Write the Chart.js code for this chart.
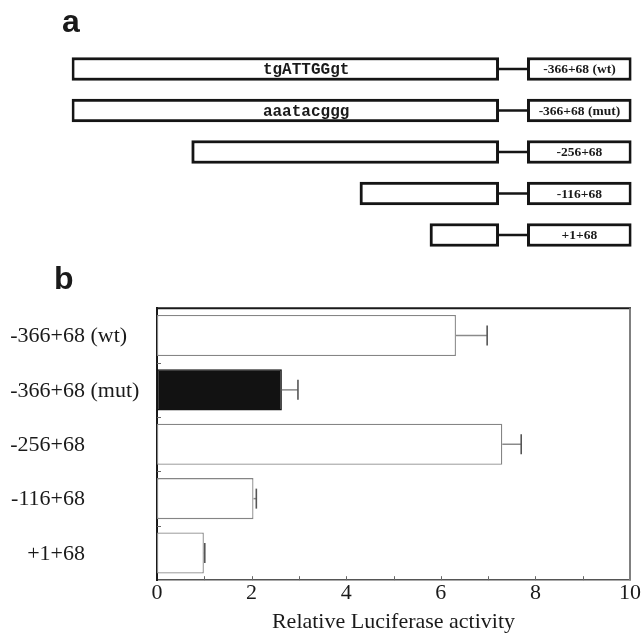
<!DOCTYPE html>
<html>
<head>
<meta charset="utf-8">
<script src="https://cdn.jsdelivr.net/npm/chart.js@4/dist/chart.umd.min.js"></script>
<style>
html,body{margin:0;padding:0;background:#fff;}
#wrap{position:relative;width:641px;height:635px;overflow:hidden;background:#fff;}
canvas{position:absolute;left:0;}
#ca{top:0;}
#cb{top:260px;}
.panel{position:absolute;font-family:"Liberation Sans",Arial,sans-serif;font-weight:bold;font-size:32px;line-height:32px;color:#1a1a1a;}
</style>
</head>
<body>
<div id="wrap">
  <canvas id="ca" width="641" height="260"></canvas>
  <canvas id="cb" width="641" height="375"></canvas>
  <div class="panel" style="left:62px;top:5px">a</div>
  <div class="panel" style="left:54px;top:262px">b</div>
</div>
<script>
// ---- data ----
const constructs = ['-366+68 (wt)', '-366+68 (mut)', '-256+68', '-116+68', '+1+68'];
const sequences = ['tgATTGGgt', 'aaatacggg', '', '', ''];
// schematic extents of each promoter fragment (schematic units, full fragment = 0..100)
const schematicStart = [0, 0, 28.1, 67.5, 83.9];
const schematicEnd = [100, 100, 100, 100, 100];
// relative luciferase activity (mean and error)
const activity = [6.32, 2.64, 7.30, 2.04, 0.99];
const activityErr = [0.66, 0.34, 0.40, 0.06, 0.02];
const xTicks = [0, 2, 4, 6, 8, 10];

// schematic layout constants (in schematic units)
const connectorEnd = 106.7;
const labelBoxEnd = 131.1;
const motifPos = 54.9;

const serif = '"Liberation Serif","Times New Roman",serif';
const mono = '"Liberation Mono","Courier New",monospace';

// ---------- Panel a: construct schematic ----------
const schematicText = {
  id: 'schematicText',
  afterDatasetsDraw(chart) {
    const ctx = chart.ctx;
    const xs = chart.scales.x;
    const boxes = chart.getDatasetMeta(0).data;
    const labels = chart.getDatasetMeta(2).data;
    ctx.save();
    ctx.fillStyle = '#1a1a1a';
    ctx.textBaseline = 'middle';
    ctx.textAlign = 'center';
    ctx.font = 'bold 16px ' + mono;
    boxes.forEach((el, i) => {
      if (sequences[i]) ctx.fillText(sequences[i], xs.getPixelForValue(motifPos), el.y + 1);
    });
    ctx.font = 'bold 13.5px ' + serif;
    labels.forEach((el, i) => {
      const cx = (el.x + el.base) / 2;
      ctx.fillText(constructs[i], cx, el.y + 1);
    });
    ctx.restore();
  }
};

const boxStyle = {
  backgroundColor: '#ffffff',
  borderColor: '#151515',
  borderWidth: 3,
  borderSkipped: false,
  barThickness: 23,
  grouped: false
};

new Chart(document.getElementById('ca'), {
  type: 'bar',
  data: {
    labels: constructs,
    datasets: [
      Object.assign({ data: constructs.map((c, i) => [schematicStart[i], schematicEnd[i]]) }, boxStyle),
      { data: constructs.map((c, i) => [schematicEnd[i], connectorEnd]), backgroundColor: '#151515', borderWidth: 0, barThickness: 2, grouped: false },
      Object.assign({ data: constructs.map(() => [connectorEnd, labelBoxEnd]) }, boxStyle)
    ]
  },
  options: {
    indexAxis: 'y',
    responsive: false,
    animation: false,
    layout: { padding: { left: 71.7, right: 9.5, top: 48.25, bottom: 4.25 } },
    scales: {
      x: { display: false, min: 0, max: labelBoxEnd },
      y: { display: false }
    },
    plugins: { legend: { display: false }, tooltip: { enabled: false } }
  },
  plugins: [schematicText]
});

// ---------- Panel b: luciferase activity ----------
const activityDecor = {
  id: 'activityDecor',
  afterDatasetsDraw(chart) {
    const ctx = chart.ctx;
    const a = chart.chartArea;
    const xs = chart.scales.x;
    const ys = chart.scales.y;
    const bars = chart.getDatasetMeta(0).data;
    ctx.save();
    // error bars
    bars.forEach((el, i) => {
      const x0 = xs.getPixelForValue(activity[i]);
      const x1 = xs.getPixelForValue(activity[i] + activityErr[i]);
      ctx.strokeStyle = '#8a8a8a';
      ctx.lineWidth = 1.5;
      ctx.beginPath(); ctx.moveTo(x0, el.y); ctx.lineTo(x1, el.y); ctx.stroke();
      ctx.strokeStyle = '#555';
      ctx.lineWidth = 1.6;
      ctx.beginPath(); ctx.moveTo(x1, el.y - 10); ctx.lineTo(x1, el.y + 10); ctx.stroke();
    });
    // frame: top and right
    ctx.strokeStyle = '#1a1a1a';
    ctx.lineWidth = 2;
    ctx.beginPath(); ctx.moveTo(a.left - 1, a.top); ctx.lineTo(a.right + 1, a.top); ctx.stroke();
    ctx.strokeStyle = '#808080';
    ctx.beginPath(); ctx.moveTo(a.right, a.top); ctx.lineTo(a.right, a.bottom); ctx.stroke();
    // inward x ticks
    ctx.strokeStyle = '#666';
    ctx.lineWidth = 1;
    for (let v = 1; v < 10; v++) {
      const px = Math.round(xs.getPixelForValue(v)) + 0.5;
      ctx.beginPath(); ctx.moveTo(px, a.bottom); ctx.lineTo(px, a.bottom - 4); ctx.stroke();
    }
    // inward y ticks at category boundaries
    for (let i = 1; i < constructs.length; i++) {
      const py = Math.round((ys.getPixelForValue(i - 1) + ys.getPixelForValue(i)) / 2) + 0.5;
      ctx.beginPath(); ctx.moveTo(a.left, py); ctx.lineTo(a.left + 4, py); ctx.stroke();
    }
    // category labels: name right-aligned, suffix after it
    ctx.fillStyle = '#1a1a1a';
    ctx.font = '22px ' + serif;
    ctx.textBaseline = 'middle';
    const anchor = a.left - 72;
    constructs.forEach((lab, i) => {
      const y = ys.getPixelForValue(i) + 1;
      const sp = lab.indexOf(' ');
      const main = sp < 0 ? lab : lab.slice(0, sp);
      const rest = sp < 0 ? '' : lab.slice(sp);
      ctx.textAlign = 'right';
      ctx.fillText(main, anchor, y);
      if (rest) { ctx.textAlign = 'left'; ctx.fillText(rest, anchor, y); }
    });
    ctx.restore();
  }
};

new Chart(document.getElementById('cb'), {
  type: 'bar',
  data: {
    labels: constructs,
    datasets: [{
      data: activity,
      backgroundColor: ctx => constructs[ctx.dataIndex].includes('(mut)') ? '#121212' : '#ffffff',
      borderColor: ctx => constructs[ctx.dataIndex].includes('(mut)') ? '#121212' : '#858585',
      borderWidth: 1.3,
      borderSkipped: false,
      barPercentage: 0.755,
      categoryPercentage: 1
    }]
  },
  options: {
    indexAxis: 'y',
    responsive: false,
    animation: false,
    layout: { padding: { left: 157, right: 8.7, top: 48.3, bottom: 0 } },
    scales: {
      x: {
        min: 0, max: 10,
        afterBuildTicks: s => { s.ticks = xTicks.map(v => ({ value: v })); },
        ticks: { font: { family: serif, size: 22, lineHeight: 1.2 }, color: '#1a1a1a', padding: 0, maxRotation: 0 },
        grid: { display: false, drawTicks: false },
        border: { display: true, color: '#555', width: 1.5 },
        title: { display: true, text: 'Relative Luciferase activity', font: { family: serif, size: 22, lineHeight: 1.2 }, color: '#1a1a1a', padding: { top: 2, bottom: 0 } }
      },
      y: {
        ticks: { display: false },
        grid: { display: false, drawTicks: false },
        border: { display: true, color: '#1a1a1a', width: 2 }
      }
    },
    plugins: { legend: { display: false }, tooltip: { enabled: false } }
  },
  plugins: [activityDecor]
});
</script>
</body>
</html>
